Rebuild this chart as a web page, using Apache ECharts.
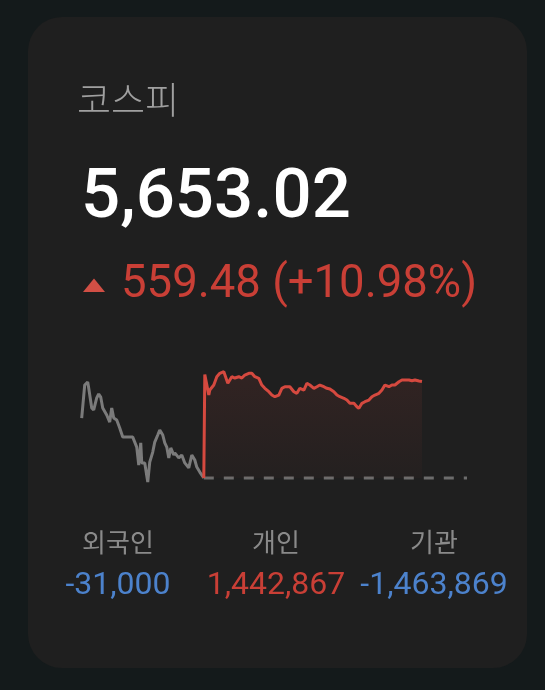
<!DOCTYPE html>
<html>
<head>
<meta charset="utf-8">
<script src="https://cdn.jsdelivr.net/npm/echarts@6/dist/echarts.min.js"></script>
<style>
html,body{margin:0;padding:0;background:#141a1b;}
#chart{width:545px;height:690px;}
</style>
</head>
<body>
<div id="chart"></div>
<script>
// ---- data ----
const indexName = '코스피';
const currentValue = 5653.02;
const prevClose = 5093.54;
const change = 559.48;
const changePct = 10.98;
// previous session (gray): [minute, value]
const prevSession = [
  [0,5441.5],[3,5633],[6,5650],[7,5616],[10,5500],[12,5488],[15,5558],[17,5581],[19,5563],[21,5500],
  [25,5459],[28,5418],[30,5500],[32,5441.5],[35,5430],[38,5384],[41,5331],[46,5331],[51,5331],[55,5273],
  [57,5169],[59,5297],[60,5181],[63,5181],[66,5070],[68,5186],[71,5244],[73,5302],[76,5343],[78,5372],
  [81,5343],[83,5297],[85,5273],[87,5210],[89,5268],[92,5227],[93,5239],[97,5210],[100,5227],[103,5181],
  [107,5152],[110,5227],[113,5198],[115,5157],[118,5128],[122,5093.54]
];
// current session (red): [minute, value]
const todaySession = [
  [122,5093.54],[123,5693.8],[127,5574.9],[128,5603.9],[132,5632.9],[135,5681],[138,5700.8],[142,5710],[143,5700.8],[146,5642.8],
  [150,5681],[153,5673.5],[157,5681],[160,5673.5],[163,5690.9],[167,5700.8],[170,5700.8],[173,5681],[177,5671.8],[180,5632.9],
  [183,5613.8],[187,5594],[190,5574.9],[193,5565],[197,5574.9],[200,5613.8],[203,5623],[208,5623],[212,5594],[215,5584.8],
  [218,5613.8],[222,5603.9],[225,5642.8],[228,5632.9],[232,5613.8],[235,5623],[238,5632.9],[242,5623],[245,5613.8],[248,5609.7],
  [252,5594],[255,5574.9],[258,5565],[262,5555.8],[265,5545.9],[268,5526.8],[272,5526.8],[275,5507],[277,5497.8],[280,5526.8],
  [283,5536],[287,5545.9],[290,5565],[293,5574.9],[297,5584.8],[300,5603.9],[303,5632.9],[307,5623],[310,5632.9],[313,5632.9],
  [317,5652],[320,5661.9],[323,5661.9],[327,5661.9],[330,5657.9],[333,5661.9],[337,5656.1],[340,5653.02]
];
const sessionEnd = 385;
const refLine = [[122, prevClose],[sessionEnd, prevClose]];
const investorLabels = ['외국인','개인','기관'];
const investorValues = [-31000, 1442867, -1463869];

// ---- render ----
const RED = '#d5493f', RED_TXT = '#c93f36', BLUE = '#4c82cc';
const fmt = n => (n < 0 ? '-' : '') + Math.abs(n).toLocaleString('en-US');
const chart = echarts.init(document.getElementById('chart'), null, {renderer:'canvas'});

const colX = [118, 276, 434];
const graphics = [
  {type:'rect', z:-10, shape:{x:28,y:17,width:499,height:651,r:34}, style:{fill:'#1f1f1f'}},
  {type:'text', x:77, y:100, style:{text:indexName, font:'300 37px "Noto Sans CJK KR"', fill:'#a0a0a0', textVerticalAlign:'middle'}},
  {type:'text', x:81, y:200, style:{text:currentValue.toLocaleString('en-US',{minimumFractionDigits:2}), font:'500 69px Roboto', fill:'#ffffff', textVerticalAlign:'middle'}},
  {type:'polygon', shape:{points:[[83,292],[94,278.5],[105,292]]}, style:{fill:'#d14f45'}},
  {type:'text', x:121, y:286, style:{text:change.toFixed(2)+' (+'+changePct.toFixed(2)+'%)', font:'normal 45.5px Roboto', fill:RED_TXT, textVerticalAlign:'middle'}}
];
investorLabels.forEach((l,i)=>{
  graphics.push({type:'text', x:colX[i], y:542, style:{text:l, font:'normal 26px "Noto Sans CJK KR"', fill:'#8a8a8a', textAlign:'center', textVerticalAlign:'middle'}});
  graphics.push({type:'text', x:colX[i], y:586, style:{text:fmt(investorValues[i]), font:'normal 32px Roboto', fill: investorValues[i] < 0 ? BLUE : RED_TXT, textAlign:'center', textVerticalAlign:'middle'}});
});

chart.setOption({
  backgroundColor:'#141a1b',
  animation:false,
  graphic: graphics,
  grid:{left:81.7, right:78, top:360, bottom:200},
  xAxis:{type:'value', min:0, max:sessionEnd, show:false},
  yAxis:{type:'value', min:5024, max:5778, show:false},
  series:[
    {type:'line', data:refLine, symbol:'none', z:3,
     lineStyle:{color:'#6c6c6c', width:3, type:[10,10]}},
    {type:'line', data:prevSession, symbol:'none', z:4,
     lineStyle:{color:'#7b7b7b', width:3}},
    {type:'line', data:todaySession, symbol:'none', z:5,
     lineStyle:{color:RED, width:3},
     areaStyle:{origin:prevClose, color:new echarts.graphic.LinearGradient(0,0,0,1,[
       {offset:0,color:'rgba(200,70,60,0.16)'},{offset:1,color:'rgba(200,70,60,0.04)'}])}}
  ]
});
</script>
</body>
</html>
